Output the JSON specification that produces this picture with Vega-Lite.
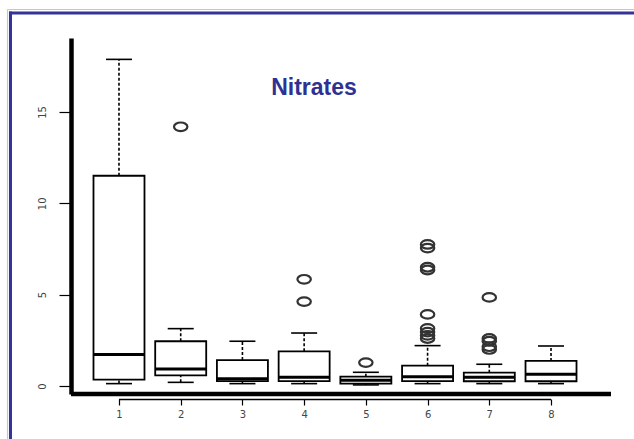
{
  "$schema": "https://vega.github.io/schema/vega-lite/v6.json",
  "width": 540,
  "height": 356,
  "autosize": "none",
  "padding": {"left": 71, "top": 38, "right": 23, "bottom": 45},
  "background": "white",
  "config": {
    "view": {"stroke": null},
    "font": "Liberation Sans",
    "axis": {"grid": false, "labelFont": "DejaVu Sans", "labelFontSize": 10, "labelColor": "#444", "tickColor": "black", "tickWidth": 1.2, "format": "d"},
    "axisX": {"domain": false, "offset": 5, "tickSize": 6, "labelPadding": 4},
    "axisY": {"domain": true, "domainColor": "black", "domainWidth": 4.5, "tickSize": 12, "labelAngle": 270, "labelAlign": "center", "labelBaseline": "bottom", "labelPadding": 12}
  },
  "datasets": {
    "stats": [
      {"group": 1, "lower": 0.13, "q1": 0.35, "median": 1.73, "q3": 11.51, "upper": 17.88},
      {"group": 2, "lower": 0.2, "q1": 0.58, "median": 0.93, "q3": 2.45, "upper": 3.14},
      {"group": 3, "lower": 0.13, "q1": 0.27, "median": 0.4, "q3": 1.42, "upper": 2.45},
      {"group": 4, "lower": 0.13, "q1": 0.27, "median": 0.48, "q3": 1.9, "upper": 2.9},
      {"group": 5, "lower": 0.06, "q1": 0.13, "median": 0.31, "q3": 0.51, "upper": 0.75},
      {"group": 6, "lower": 0.13, "q1": 0.27, "median": 0.51, "q3": 1.11, "upper": 2.21},
      {"group": 7, "lower": 0.13, "q1": 0.26, "median": 0.48, "q3": 0.73, "upper": 1.19},
      {"group": 8, "lower": 0.13, "q1": 0.26, "median": 0.64, "q3": 1.37, "upper": 2.19}
    ],
    "outliers": [
      {"group": 2, "value": 14.19},
      {"group": 4, "value": 5.84},
      {"group": 4, "value": 4.62},
      {"group": 5, "value": 1.28},
      {"group": 6, "value": 7.75},
      {"group": 6, "value": 7.55},
      {"group": 6, "value": 6.5},
      {"group": 6, "value": 6.35},
      {"group": 6, "value": 3.92},
      {"group": 6, "value": 3.15},
      {"group": 6, "value": 2.95},
      {"group": 6, "value": 2.77},
      {"group": 6, "value": 2.6},
      {"group": 7, "value": 4.85},
      {"group": 7, "value": 2.6},
      {"group": 7, "value": 2.45},
      {"group": 7, "value": 2.15},
      {"group": 7, "value": 2.0}
    ]
  },
  "layer": [
    {
      "data": {"name": "stats"},
      "mark": {"type": "rule", "color": "black", "strokeWidth": 1.6, "strokeDash": [3, 2]},
      "encoding": {
        "x": {"field": "group", "type": "quantitative", "title": null,
              "scale": {"domain": [0.2224, 8.972], "nice": false, "zero": false, "padding": 0},
              "axis": {"values": [1, 2, 3, 4, 5, 6, 7, 8], "format": "d"}},
        "y": {"field": "q3", "type": "quantitative", "title": null,
              "scale": {"domain": [-0.438, 19.05], "nice": false, "zero": false, "padding": 0},
              "axis": {"values": [0, 5, 10, 15], "format": "d"}},
        "y2": {"field": "upper"}
      }
    },
    {
      "data": {"name": "stats"},
      "mark": {"type": "rule", "color": "black", "strokeWidth": 1.6, "strokeDash": [3, 2]},
      "encoding": {
        "x": {"field": "group", "type": "quantitative", "title": null},
        "y": {"field": "lower", "type": "quantitative", "title": null},
        "y2": {"field": "q1"}
      }
    },
    {
      "data": {"name": "stats"},
      "mark": {"type": "bar", "width": 51, "fill": "white", "stroke": "black", "strokeWidth": 1.8},
      "encoding": {
        "x": {"field": "group", "type": "quantitative", "title": null},
        "y": {"field": "q1", "type": "quantitative", "title": null},
        "y2": {"field": "q3"}
      }
    },
    {
      "data": {"name": "stats"},
      "mark": {"type": "tick", "orient": "horizontal", "size": 51, "thickness": 3, "color": "black", "opacity": 1},
      "encoding": {
        "x": {"field": "group", "type": "quantitative", "title": null},
        "y": {"field": "median", "type": "quantitative", "title": null}
      }
    },
    {
      "data": {"name": "stats"},
      "mark": {"type": "tick", "orient": "horizontal", "size": 26, "thickness": 1.6, "color": "black", "opacity": 1},
      "encoding": {
        "x": {"field": "group", "type": "quantitative", "title": null},
        "y": {"field": "upper", "type": "quantitative", "title": null}
      }
    },
    {
      "data": {"name": "stats"},
      "mark": {"type": "tick", "orient": "horizontal", "size": 26, "thickness": 1.6, "color": "black", "opacity": 1},
      "encoding": {
        "x": {"field": "group", "type": "quantitative", "title": null},
        "y": {"field": "lower", "type": "quantitative", "title": null}
      }
    },
    {
      "data": {"name": "outliers"},
      "mark": {"type": "point", "shape": "M -1 0 A 1 0.64 0 1 0 1 0 A 1 0.64 0 1 0 -1 0 Z", "size": 180, "filled": false, "stroke": "#333", "strokeWidth": 2.2, "opacity": 1},
      "encoding": {
        "x": {"field": "group", "type": "quantitative", "title": null},
        "y": {"field": "value", "type": "quantitative", "title": null}
      }
    },
    {
      "data": {"values": [{"k": 1}]},
      "mark": {"type": "rule", "color": "black", "strokeWidth": 4.5},
      "encoding": {
        "x": {"datum": 0.2224, "type": "quantitative"},
        "x2": {"datum": 8.972},
        "y": {"datum": -0.438, "type": "quantitative"}
      }
    },
    {
      "data": {"values": [{"k": 1}]},
      "mark": {"type": "rule", "color": "black", "strokeWidth": 1.3},
      "encoding": {
        "x": {"datum": 1, "type": "quantitative"},
        "x2": {"datum": 8},
        "y": {"datum": -0.74, "type": "quantitative"}
      }
    },
    {
      "data": {"values": [{"k": 1}]},
      "mark": {"type": "rule", "color": "#c4c4dc", "strokeWidth": 1.2},
      "encoding": {
        "x": {"datum": -0.806, "type": "quantitative"},
        "x2": {"datum": 9.6},
        "y": {"datum": 20.61, "type": "quantitative"}
      }
    },
    {
      "data": {"values": [{"k": 1}]},
      "mark": {"type": "rule", "color": "#c4c4dc", "strokeWidth": 1.2},
      "encoding": {
        "x": {"datum": -0.806, "type": "quantitative"},
        "y": {"datum": 20.61, "type": "quantitative"},
        "y2": {"datum": -3.5}
      }
    },
    {
      "data": {"values": [{"k": 1}]},
      "mark": {"type": "rule", "color": "#333399", "strokeWidth": 3},
      "encoding": {
        "x": {"datum": -0.782, "type": "quantitative"},
        "x2": {"datum": 9.6},
        "y": {"datum": 20.42, "type": "quantitative"}
      }
    },
    {
      "data": {"values": [{"k": 1}]},
      "mark": {"type": "rule", "color": "#333399", "strokeWidth": 3},
      "encoding": {
        "x": {"datum": -0.758, "type": "quantitative"},
        "y": {"datum": 20.5, "type": "quantitative"},
        "y2": {"datum": -3.5}
      }
    },
    {
      "data": {"values": [{"label": "Nitrates"}]},
      "mark": {"type": "text", "font": "Liberation Sans", "fontWeight": "bold", "fontSize": 23, "color": "#2e3192", "align": "center", "baseline": "alphabetic"},
      "encoding": {
        "text": {"field": "label"},
        "x": {"datum": 4.16, "type": "quantitative"},
        "y": {"datum": 15.93, "type": "quantitative"}
      }
    }
  ]
}
